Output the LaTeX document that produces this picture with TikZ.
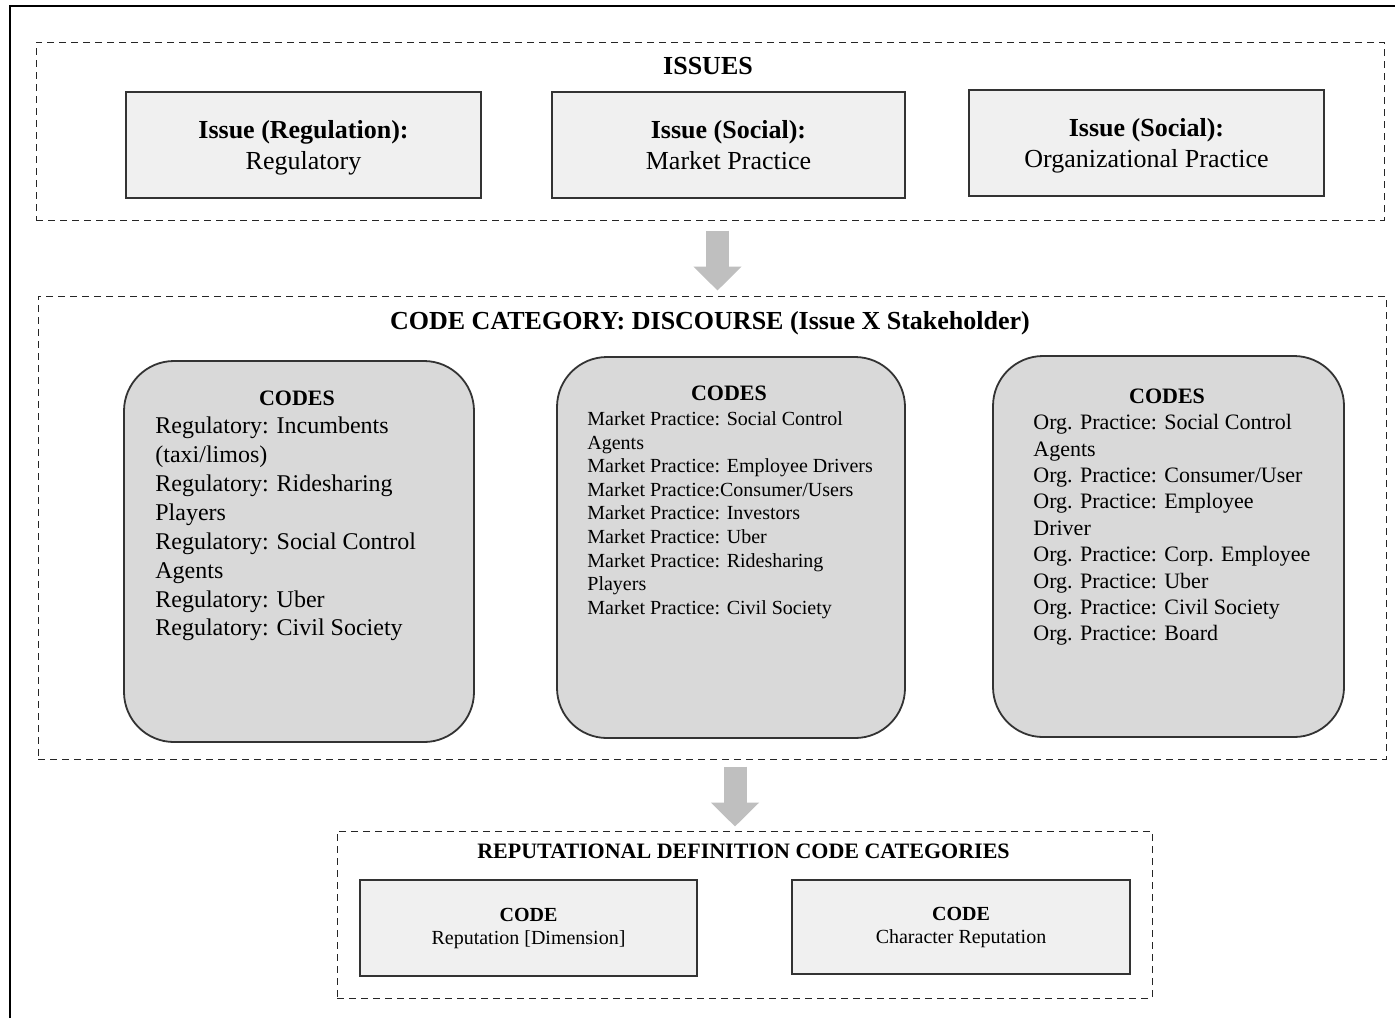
\documentclass[tikz,border=0pt]{standalone}
\usepackage{fontspec}
\setmainfont{Liberation Serif}
\usetikzlibrary{arrows.meta,positioning}

\newcommand{\titlefont}{\fontsize{13}{15.5}\selectfont\bfseries}
\newcommand{\issuefont}{\fontsize{13}{15.5}\selectfont}
\newcommand{\headfont}{\fontsize{11}{13}\selectfont\bfseries}
\newcommand{\issuestrut}{\rule{0pt}{12pt}}

\tikzset{
  groupbox/.style={draw=black!85, dash pattern=on 3.5pt off 2.5pt, line width=0.5pt, inner sep=0pt},
  grouptitle/.style={anchor=base, inner sep=0pt},
  issuebox/.style={draw=black!80, fill=black!6, line width=0.9pt, minimum height=53pt,
    align=center, font=\issuefont},
  codebox/.style={draw=black!80, fill=black!15, line width=0.9pt, rounded corners=25pt,
    minimum height=190.5pt},
  codehead/.style={anchor=base, inner sep=0pt, font=\headfont},
  codelist/.style={anchor=north west, inner sep=0pt, align=left},
  repbox/.style={draw=black!80, fill=black!6, line width=0.9pt, align=center,
    font=\fontsize{10}{11.5}\selectfont},
  blockarrow/.style={draw=black!25, line width=11.5pt, -{Triangle[length=12pt,width=23.5pt]}}
}

\begin{document}
\begin{tikzpicture}[x=0.5pt, y=-0.5pt]
  \useasboundingbox (0,0) rectangle (1395,1018);
  \draw[line width=1pt] (10,1018) -- (10,6) -- (1395,6);

  % issues
  \node[groupbox, minimum width=674pt, minimum height=89pt] (issues) at (710,131) {};
  \node[grouptitle, font=\titlefont] (issuestitle) at (708,74.6) {ISSUES};
  \node[issuebox, minimum width=177.5pt] (regissue) at (303.5,145) {\issuestrut\textbf{Issue (Regulation):}\\Regulatory\vphantom{p}};
  \node[issuebox, minimum width=176.5pt] (mktissue) at (728.5,145) {\issuestrut\textbf{Issue (Social):}\\Market Practice\vphantom{p}};
  \node[issuebox, minimum width=177.5pt] (orgissue) at (1146.5,143) {\issuestrut\textbf{Issue (Social):}\\Organizational Practice\vphantom{p}};

  % discourse codes
  \node[groupbox, minimum width=674pt, minimum height=231.5pt] (discourse) at (712,527.5) {};
  \node[grouptitle, font=\titlefont] (discoursetitle) at (710,329) {CODE CATEGORY: DISCOURSE (Issue X Stakeholder)};

  \node[codebox, minimum width=175pt] (regcodes) at (299,551.5) {};
  \node[codehead] (reghead) at (297,405) {CODES};
  \node[codelist, font=\fontsize{12}{14.45}\selectfont] (reglist) at (155,416.6)
    {Regulatory: Incumbents\\(taxi/limos)\\Regulatory: Ridesharing\\Players\\
     Regulatory: Social Control\\Agents\\Regulatory: Uber\\Regulatory: Civil Society};

  \node[codebox, minimum width=174pt] (mktcodes) at (731,547.5) {};
  \node[codehead] (mkthead) at (729,400.7) {CODES};
  \node[codelist, font=\fontsize{10}{11.8}\selectfont] (mktlist) at (587,411.3)
    {Market Practice: Social Control\\Agents\\Market Practice: Employee Drivers\\
     Market Practice:Consumer/Users\\Market Practice: Investors\\Market Practice: Uber\\
     Market Practice: Ridesharing\\Players\\Market Practice: Civil Society};

  \node[codebox, minimum width=175.5pt] (orgcodes) at (1168.5,546.5) {};
  \node[codehead] (orghead) at (1167,403) {CODES};
  \node[codelist, font=\fontsize{11}{13.2}\selectfont] (orglist) at (1033,414)
    {Org. Practice: Social Control\\Agents\\Org. Practice: Consumer/User\\
     Org. Practice: Employee\\Driver\\Org. Practice: Corp. Employee\\
     Org. Practice: Uber\\Org. Practice: Civil Society\\Org. Practice: Board};

  % reputation categories
  \node[groupbox, minimum width=407.5pt, minimum height=83.5pt] (reputation) at (744.5,914.5) {};
  \node[grouptitle, font=\fontsize{11}{12.5}\selectfont\bfseries] (reputationtitle) at (743.5,858)
    {REPUTATIONAL DEFINITION CODE CATEGORIES};
  \node[repbox, minimum width=168.5pt, minimum height=48pt] (dimcode) at (528.5,928)
    {\textbf{CODE}\\Reputation [Dimension]};
  \node[repbox, minimum width=169pt, minimum height=47pt] (charcode) at (961,927)
    {\textbf{CODE}\\Character Reputation};

  % flow
  \draw[blockarrow, shorten <=5pt, shorten >=2.5pt] (717.5,0 |- issues.south) -- (717.5,0 |- discourse.north);
  \draw[blockarrow, shorten <=3.5pt, shorten >=2pt] (735,0 |- discourse.south) -- (735,0 |- reputation.north);
\end{tikzpicture}
\end{document}
